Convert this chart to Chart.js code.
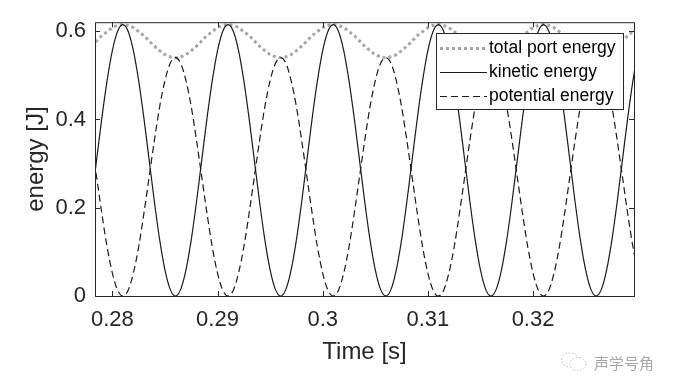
<!DOCTYPE html>
<html>
<head>
<meta charset="utf-8">
<script src="https://cdn.jsdelivr.net/npm/chart.js@4/dist/chart.umd.min.js"></script>
<style>
  body { margin: 0; background: #fff; }
  .wrap { position: relative; width: 679px; height: 391px; }
  .mark { position: absolute; left: 560px; top: 351px; display: flex; align-items: center;
    font-family: "Noto Sans CJK SC", sans-serif; font-size: 15px; color: #a8a8a8; }
  .mark svg { margin-right: 6px; }
</style>
</head>
<body>
<div class="wrap">
  <canvas id="energyChart" width="679" height="391"></canvas>
  <div class="mark">
    <svg width="28" height="22" viewBox="0 0 28 22">
      <ellipse cx="10" cy="9" rx="8.5" ry="7" fill="none" stroke="#c8c8c8" stroke-width="1" stroke-dasharray="2 1.5"/>
      <ellipse cx="18" cy="13" rx="8" ry="6.5" fill="#fff" stroke="#c8c8c8" stroke-width="1" stroke-dasharray="2 1.5"/>
    </svg>
    <span>声学号角</span>
  </div>
</div>
<script>
// time samples [s]
const times = [
  0.2780, 0.2785, 0.2790, 0.2795, 0.2800, 0.2805,
  0.2810, 0.2815, 0.2820, 0.2825, 0.2830, 0.2835, 0.2840, 0.2845, 0.2850, 0.2855,
  0.2860, 0.2865, 0.2870, 0.2875, 0.2880, 0.2885, 0.2890, 0.2895, 0.2900, 0.2905,
  0.2910, 0.2915, 0.2920, 0.2925, 0.2930, 0.2935, 0.2940, 0.2945, 0.2950, 0.2955,
  0.2960, 0.2965, 0.2970, 0.2975, 0.2980, 0.2985, 0.2990, 0.2995, 0.3000, 0.3005,
  0.3010, 0.3015, 0.3020, 0.3025, 0.3030, 0.3035, 0.3040, 0.3045, 0.3050, 0.3055,
  0.3060, 0.3065, 0.3070, 0.3075, 0.3080, 0.3085, 0.3090, 0.3095, 0.3100, 0.3105,
  0.3110, 0.3115, 0.3120, 0.3125, 0.3130, 0.3135, 0.3140, 0.3145, 0.3150, 0.3155,
  0.3160, 0.3165, 0.3170, 0.3175, 0.3180, 0.3185, 0.3190, 0.3195, 0.3200, 0.3205,
  0.3210, 0.3215, 0.3220, 0.3225, 0.3230, 0.3235, 0.3240, 0.3245, 0.3250, 0.3255,
  0.3260, 0.3265, 0.3270, 0.3275, 0.3280, 0.3285, 0.3290, 0.3295, 0.3300, 0.3305
];

const kinetic = [
  0.213, 0.308, 0.403, 0.488, 0.556, 0.600,
  0.615, 0.600, 0.556, 0.488, 0.403, 0.308, 0.213, 0.127, 0.059, 0.015,
  0, 0.015, 0.059, 0.127, 0.213, 0.308, 0.403, 0.488, 0.556, 0.600,
  0.615, 0.600, 0.556, 0.488, 0.403, 0.308, 0.213, 0.127, 0.059, 0.015,
  0, 0.015, 0.059, 0.127, 0.213, 0.308, 0.403, 0.488, 0.556, 0.600,
  0.615, 0.600, 0.556, 0.488, 0.403, 0.308, 0.213, 0.127, 0.059, 0.015,
  0, 0.015, 0.059, 0.127, 0.213, 0.308, 0.403, 0.488, 0.556, 0.600,
  0.615, 0.600, 0.556, 0.488, 0.403, 0.308, 0.213, 0.127, 0.059, 0.015,
  0, 0.015, 0.059, 0.127, 0.213, 0.308, 0.403, 0.488, 0.556, 0.600,
  0.615, 0.600, 0.556, 0.488, 0.403, 0.308, 0.213, 0.127, 0.059, 0.015,
  0, 0.015, 0.059, 0.127, 0.213, 0.308, 0.403, 0.488, 0.556, 0.600
];

const potential = [
  0.353, 0.270, 0.187, 0.111, 0.052, 0.013,
  0, 0.013, 0.052, 0.111, 0.187, 0.270, 0.353, 0.429, 0.488, 0.527,
  0.540, 0.527, 0.488, 0.429, 0.353, 0.270, 0.187, 0.111, 0.052, 0.013,
  0, 0.013, 0.052, 0.111, 0.187, 0.270, 0.353, 0.429, 0.488, 0.527,
  0.540, 0.527, 0.488, 0.429, 0.353, 0.270, 0.187, 0.111, 0.052, 0.013,
  0, 0.013, 0.052, 0.111, 0.187, 0.270, 0.353, 0.429, 0.488, 0.527,
  0.540, 0.527, 0.488, 0.429, 0.353, 0.270, 0.187, 0.111, 0.052, 0.013,
  0, 0.013, 0.052, 0.111, 0.187, 0.270, 0.353, 0.429, 0.488, 0.527,
  0.540, 0.527, 0.488, 0.429, 0.353, 0.270, 0.187, 0.111, 0.052, 0.013,
  0, 0.013, 0.052, 0.111, 0.187, 0.270, 0.353, 0.429, 0.488, 0.527,
  0.540, 0.527, 0.488, 0.429, 0.353, 0.270, 0.187, 0.111, 0.052, 0.013
];

const totalPort = [
  0.566, 0.578, 0.590, 0.599, 0.608, 0.613,
  0.615, 0.613, 0.608, 0.599, 0.590, 0.578, 0.566, 0.556, 0.547, 0.542,
  0.540, 0.542, 0.547, 0.556, 0.566, 0.578, 0.590, 0.599, 0.608, 0.613,
  0.615, 0.613, 0.608, 0.599, 0.590, 0.578, 0.566, 0.556, 0.547, 0.542,
  0.540, 0.542, 0.547, 0.556, 0.566, 0.578, 0.590, 0.599, 0.608, 0.613,
  0.615, 0.613, 0.608, 0.599, 0.590, 0.578, 0.566, 0.556, 0.547, 0.542,
  0.540, 0.542, 0.547, 0.556, 0.566, 0.578, 0.590, 0.599, 0.608, 0.613,
  0.615, 0.613, 0.608, 0.599, 0.590, 0.578, 0.566, 0.556, 0.547, 0.542,
  0.540, 0.542, 0.547, 0.556, 0.566, 0.578, 0.590, 0.599, 0.608, 0.613,
  0.615, 0.613, 0.608, 0.599, 0.590, 0.578, 0.566, 0.556, 0.547, 0.542,
  0.540, 0.542, 0.547, 0.556, 0.566, 0.578, 0.590, 0.599, 0.608, 0.613
];

const xTicks = [0.28, 0.29, 0.3, 0.31, 0.32];
const yTicks = [0, 0.2, 0.4, 0.6];
const seriesNames = ["total port energy", "kinetic energy", "potential energy"];

const axisColor = "#262626";
const fontFamily = "'Liberation Sans', Arial, sans-serif";

const toPoints = (vals) => vals.map((v, i) => ({ x: times[i], y: v }));

// MATLAB style box with inward ticks on all four sides
const boxTicks = {
  id: "boxTicks",
  afterDatasetsDraw(chart) {
    const { ctx, chartArea: a, scales } = chart;
    const len = 5;
    ctx.save();
    ctx.strokeStyle = axisColor;
    ctx.lineWidth = 1;
    ctx.strokeRect(a.left + 0.5, a.top + 0.5, a.right - a.left, a.bottom - a.top);
    ctx.beginPath();
    xTicks.forEach((v) => {
      const px = Math.round(scales.x.getPixelForValue(v)) + 0.5;
      ctx.moveTo(px, a.bottom);
      ctx.lineTo(px, a.bottom - len);
      ctx.moveTo(px, a.top);
      ctx.lineTo(px, a.top + len);
    });
    yTicks.forEach((v) => {
      const py = Math.round(scales.y.getPixelForValue(v)) + 0.5;
      ctx.moveTo(a.left, py);
      ctx.lineTo(a.left + len, py);
      ctx.moveTo(a.right, py);
      ctx.lineTo(a.right - len, py);
    });
    ctx.stroke();
    ctx.restore();
  },
};

// legend box inside the plot, upper right
const boxLegend = {
  id: "boxLegend",
  afterDraw(chart) {
    const { ctx } = chart;
    const left = 436, top = 33, w = 187, h = 76;
    ctx.save();
    ctx.fillStyle = "#fff";
    ctx.fillRect(left, top, w, h);
    ctx.strokeStyle = axisColor;
    ctx.lineWidth = 1;
    ctx.strokeRect(left + 0.5, top + 0.5, w, h);
    ctx.font = "17.5px " + fontFamily;
    ctx.textBaseline = "middle";
    ctx.fillStyle = "#000";
    const order = [2, 0, 1];
    order.forEach((dsIndex, row) => {
      const ds = chart.data.datasets[dsIndex];
      const cy = top + 15.5 + row * 24;
      ctx.save();
      ctx.strokeStyle = ds.borderColor;
      ctx.lineWidth = ds.borderWidth;
      ctx.setLineDash(ds.borderDash || []);
      ctx.beginPath();
      ctx.moveTo(440, cy);
      ctx.lineTo(487, cy);
      ctx.stroke();
      ctx.restore();
      ctx.fillText(seriesNames[row], 489, cy);
    });
    ctx.restore();
  },
};

new Chart(document.getElementById("energyChart").getContext("2d"), {
  type: "line",
  data: {
    datasets: [
      {
        label: seriesNames[1],
        data: toPoints(kinetic),
        borderColor: "#1a1a1a",
        borderWidth: 1.2,
        pointRadius: 0,
        cubicInterpolationMode: "monotone",
      },
      {
        label: seriesNames[2],
        data: toPoints(potential),
        borderColor: "#1a1a1a",
        borderWidth: 1.2,
        borderDash: [7, 4],
        pointRadius: 0,
        cubicInterpolationMode: "monotone",
      },
      {
        label: seriesNames[0],
        data: toPoints(totalPort),
        borderColor: "#a6a6a6",
        borderWidth: 3,
        borderDash: [3, 3],
        pointRadius: 0,
        cubicInterpolationMode: "monotone",
      },
    ],
  },
  options: {
    responsive: false,
    animation: false,
    events: [],
    layout: { padding: { top: 22, right: 45, left: 0, bottom: 0 } },
    plugins: {
      legend: { display: false },
      tooltip: { enabled: false },
    },
    scales: {
      x: {
        type: "linear",
        min: 0.27835,
        max: 0.3296,
        afterFit: (s) => { s.height = 95; },
        afterBuildTicks: (s) => { s.ticks = xTicks.map((v) => ({ value: v })); },
        grid: { display: false, drawTicks: false },
        border: { display: false },
        ticks: {
          padding: 11,
          color: axisColor,
          font: { family: fontFamily, size: 22 },
          callback: (v) => String(v),
        },
        title: {
          display: true,
          text: "Time [s]",
          color: axisColor,
          font: { family: fontFamily, size: 24 },
          padding: { top: 0, bottom: 24 },
        },
      },
      y: {
        min: 0,
        max: 0.6204,
        afterFit: (s) => { s.width = 95; },
        afterBuildTicks: (s) => { s.ticks = yTicks.map((v) => ({ value: v })); },
        grid: { display: false, drawTicks: false },
        border: { display: false },
        ticks: {
          padding: 9,
          color: axisColor,
          font: { family: fontFamily, size: 22 },
          callback: (v) => String(v),
        },
        title: {
          display: true,
          text: "energy [J]",
          color: axisColor,
          font: { family: fontFamily, size: 24 },
          padding: { top: 22, bottom: 0 },
        },
      },
    },
  },
  plugins: [boxTicks, boxLegend],
});
</script>
</body>
</html>
